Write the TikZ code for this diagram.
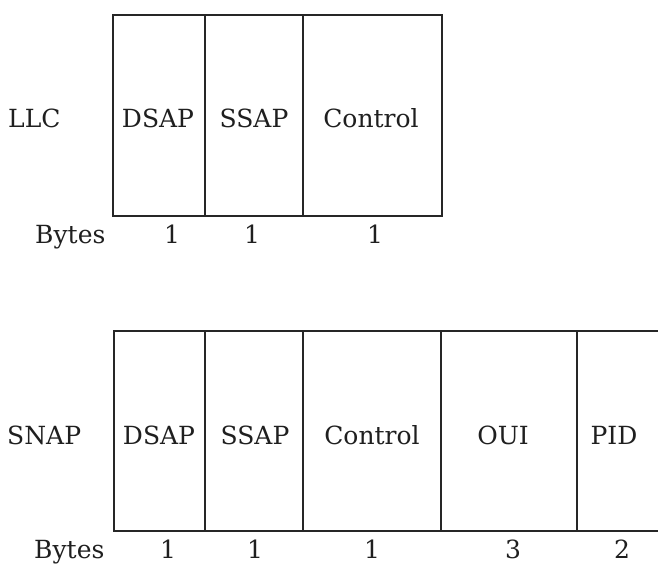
\documentclass[tikz,border=0pt]{standalone}
\usepackage{fontspec}
\setmainfont{DejaVu Serif}
\begin{document}
\begin{tikzpicture}[x=1pt,y=-1pt,
  frame/.style={draw=black!85,line width=2pt,line cap=rect},
  lbl/.style={inner sep=0pt,anchor=base,font=\fontsize{25}{30}\selectfont,text=black!88},
  rowname/.style={lbl,anchor=base west}]
\useasboundingbox (0,0) rectangle (658,565);

% LLC header
\draw[frame] (113,15) rectangle (442,216);
\draw[frame] (205,15) -- (205,216);
\draw[frame] (303,15) -- (303,216);
\node[rowname] (llc) at (8,127) {LLC};
\node[lbl] (llcdsap) at (158,127) {DSAP};
\node[lbl] (llcssap) at (254,127) {SSAP};
\node[lbl] (llcctrl) at (371,127) {Control};
\node[rowname] (llcbytes) at (35,243) {Bytes};
\node[lbl] (llcb1) at (172,243) {1};
\node[lbl] (llcb2) at (252,243) {1};
\node[lbl] (llcb3) at (375,243) {1};

% SNAP header (runs on past the right edge)
\draw[frame] (670,331) -- (114,331) -- (114,531) -- (670,531);
\foreach \xx in {205,303,441,577}
  \draw[frame] (\xx,331) -- (\xx,531);
\node[rowname] (snap) at (7,444) {SNAP};
\node[lbl] (snapdsap) at (159,444) {DSAP};
\node[lbl] (snapssap) at (255,444) {SSAP};
\node[lbl] (snapctrl) at (372,444) {Control};
\node[lbl] (snapoui) at (503,444) {OUI};
\node[lbl] (snappid) at (614,444) {PID};
\node[rowname] (snapbytes) at (34,558) {Bytes};
\node[lbl] (snapb1) at (168,558) {1};
\node[lbl] (snapb2) at (255,558) {1};
\node[lbl] (snapb3) at (372,558) {1};
\node[lbl] (snapb4) at (513,558) {3};
\node[lbl] (snapb5) at (622,558) {2};
\end{tikzpicture}
\end{document}
